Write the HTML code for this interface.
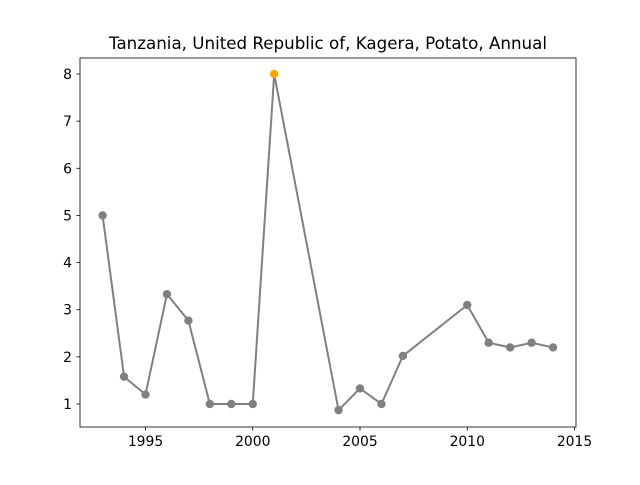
<!DOCTYPE html>
<html><head><meta charset="utf-8"><style>
body{margin:0;background:#fff;}
svg text{font-family:"DejaVu Sans","Liberation Sans",sans-serif;}
</style></head><body>
<svg id="chart" width="640" height="480" xmlns="http://www.w3.org/2000/svg">
<rect width="640" height="480" fill="#fff"/>
<text x="328" y="49" font-size="16.7" text-anchor="middle">Tanzania, United Republic of, Kagera, Potato, Annual</text>
<g id="axes"></g>
<g id="series"></g>
<rect x="80" y="58" width="496" height="369" fill="none" stroke="#000" stroke-width="0.8"/>
</svg>
<script>
const years=[1993,1994,1995,1996,1997,1998,1999,2000,2001,2004,2005,2006,2007,2010,2011,2012,2013,2014];
const values=[5,1.58,1.2,3.33,2.77,1,1,1,8,0.87,1.33,1,2.02,3.1,2.3,2.2,2.3,2.2];
const highlightYear=2001;
const xTicks=[1995,2000,2005,2010,2015];
const yTicks=[1,2,3,4,5,6,7,8];
const NS='http://www.w3.org/2000/svg';
function xs(v){return 145.5+(v-1995)*21.45;}
function ys(v){return 404-(v-1)*47.14;}
const axes=document.getElementById('axes'),series=document.getElementById('series');
function mk(t,a,p){const e=document.createElementNS(NS,t);for(const k in a)e.setAttribute(k,a[k]);p.appendChild(e);return e;}
xTicks.forEach(t=>{
 const x=xs(t);
 const l=mk('line',{x1:x,x2:x,y1:427,y2:430.5,stroke:'#000','stroke-width':0.8},axes);
 
 
 const tx=mk('text',{x:x,y:446,'font-size':13.9,'text-anchor':'middle'},axes);tx.textContent=t;
 
 
});
yTicks.forEach(t=>{
 const y=ys(t);
 const l=mk('line',{x1:76.5,x2:80,y1:y,y2:y,stroke:'#000','stroke-width':0.8},axes);
 
 
 const tx=mk('text',{x:72,y:y+5,'font-size':13.9,'text-anchor':'end'},axes);tx.textContent=t;
 
 
});
const pts=years.map((y,i)=>xs(y)+','+ys(values[i])).join(' ');
const pl=mk('polyline',{points:pts,fill:'none',stroke:'#808080','stroke-width':2},series);


years.forEach((y,i)=>{
 const c=mk('circle',{cx:xs(y),cy:ys(values[i]),r:4.2,fill:y===highlightYear?'#ffa500':'#808080'},series);
 
 
});
</script>
</body></html>
